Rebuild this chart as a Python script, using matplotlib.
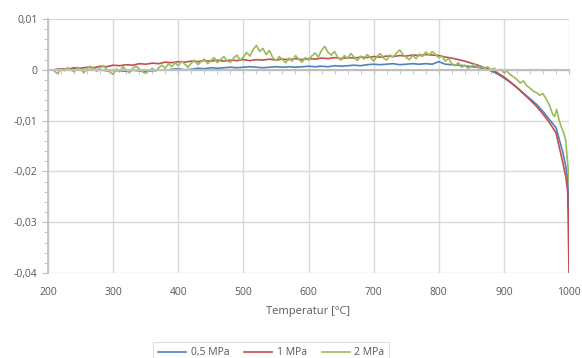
import matplotlib.pyplot as plt
import numpy as np
from matplotlib.ticker import MultipleLocator, FuncFormatter, FixedLocator

plt.rcParams['font.family'] = ['Open Sans', 'DejaVu Sans']

# temperature grid for 0,5 MPa and 1 MPa
t_main = list(range(210, 1000, 10)) + [995, 998, 1000]

blue = [0.0000, 0.0001, 0.0000, 0.0002, 0.0001, -0.0001, 0.0001, 0.0000, -0.0002, -0.0001,
        -0.0002, -0.0003, -0.0001, -0.0002, -0.0003, -0.0002, 0.0000, -0.0001, 0.0001, 0.0002,
        0.0000, 0.0001, 0.0003, 0.0002, 0.0004, 0.0003, 0.0004, 0.0005, 0.0004, 0.0005,
        0.0006, 0.0005, 0.0004, 0.0005, 0.0006, 0.0005, 0.0006, 0.0005, 0.0006, 0.0007,
        0.0006, 0.0007, 0.0006, 0.0008, 0.0007, 0.0008, 0.0009, 0.0008, 0.0010, 0.0011,
        0.0010, 0.0011, 0.0012, 0.0010, 0.0011, 0.0012, 0.0011, 0.0012, 0.0011, 0.0016,
        0.0011, 0.0010, 0.0009, 0.0008, 0.0006, 0.0005, 0.0002, -0.0002, -0.0008, -0.0016,
        -0.0025, -0.0035, -0.0046, -0.0057, -0.0068, -0.0082, -0.0098, -0.0114, -0.0160,
        -0.0190, -0.0215, -0.0300]

red = [0.0000, 0.0002, 0.0001, 0.0004, 0.0003, 0.0005, 0.0004, 0.0007, 0.0006, 0.0009,
       0.0008, 0.0010, 0.0009, 0.0012, 0.0011, 0.0013, 0.0012, 0.0015, 0.0014, 0.0016,
       0.0015, 0.0017, 0.0016, 0.0018, 0.0017, 0.0019, 0.0017, 0.0019, 0.0018, 0.0020,
       0.0018, 0.0020, 0.0019, 0.0021, 0.0019, 0.0021, 0.0020, 0.0022, 0.0020, 0.0022,
       0.0021, 0.0023, 0.0022, 0.0024, 0.0022, 0.0024, 0.0023, 0.0025, 0.0024, 0.0026,
       0.0025, 0.0027, 0.0026, 0.0028, 0.0027, 0.0029, 0.0028, 0.0030, 0.0029, 0.0028,
       0.0025, 0.0023, 0.0020, 0.0017, 0.0013, 0.0009, 0.0004, 0.0000, -0.0006, -0.0014,
       -0.0024, -0.0035, -0.0047, -0.0059, -0.0072, -0.0087, -0.0104, -0.0124, -0.0180,
       -0.0210, -0.0240, -0.0400]

# 2 MPa, finer sampling
t_green = list(range(210, 950, 5)) + [950, 955, 960, 965, 970, 975, 978, 981, 985, 988,
                                     992, 995, 997, 999, 1000]
green = [-0.0003, -0.0008, 0.0002, -0.0002, 0.0004, 0.0000, -0.0004, 0.0005, 0.0001, -0.0006,
         0.0003, 0.0007, 0.0002, -0.0003, 0.0004, 0.0008, 0.0001, -0.0005, -0.0009, 0.0002,
         -0.0004, 0.0006, 0.0000, -0.0006, 0.0003, 0.0007, 0.0002, -0.0004, -0.0007, -0.0002,
         0.0003, -0.0003, 0.0004, 0.0009, 0.0003, 0.0012, 0.0006, 0.0014, 0.0008, 0.0017,
         0.0011, 0.0005, 0.0013, 0.0019, 0.0010, 0.0016, 0.0021, 0.0012, 0.0018, 0.0024,
         0.0014, 0.0020, 0.0026, 0.0017, 0.0015, 0.0023, 0.0029, 0.0019, 0.0025, 0.0034,
         0.0027, 0.0040, 0.0048, 0.0036, 0.0042, 0.0030, 0.0038, 0.0024, 0.0018, 0.0026,
         0.0020, 0.0014, 0.0023, 0.0017, 0.0028, 0.0021, 0.0015, 0.0024, 0.0019, 0.0027,
         0.0033, 0.0025, 0.0038, 0.0046, 0.0034, 0.0029, 0.0036, 0.0024, 0.0019, 0.0028,
         0.0022, 0.0032, 0.0025, 0.0018, 0.0027, 0.0021, 0.0030, 0.0024, 0.0017, 0.0026,
         0.0032, 0.0023, 0.0019, 0.0029, 0.0025, 0.0033, 0.0039, 0.0030, 0.0024, 0.0020,
         0.0028, 0.0022, 0.0031, 0.0026, 0.0035, 0.0029, 0.0036, 0.0030, 0.0024, 0.0027,
         0.0017, 0.0022, 0.0012, 0.0008, 0.0014, 0.0005, 0.0009, 0.0003, 0.0007, 0.0011,
         0.0004, 0.0008, 0.0002, 0.0006, 0.0000, 0.0003, -0.0002, 0.0001, -0.0006, -0.0003,
         -0.0010, -0.0014, -0.0019, -0.0026, -0.0022, -0.0031, -0.0036, -0.0042,
         -0.0045, -0.0050, -0.0047, -0.0058, -0.0070, -0.0088, -0.0092, -0.0078, -0.0100,
         -0.0112, -0.0125, -0.0140, -0.0170, -0.0200, -0.0222]

labels = ['0,5 MPa', '1 MPa', '2 MPa']
colors = ['#4F81BD', '#C0504D', '#9BBB59']
x_ticks = [200, 300, 400, 500, 600, 700, 800, 900, 1000]

fig = plt.figure(figsize=(5.82, 3.58), dpi=100)
ax = fig.add_axes([0.0825, 0.2374, 0.8952, 0.7096])

ax.plot(t_main, blue, color=colors[0], lw=1.2, label=labels[0])
ax.plot(t_main, red, color=colors[1], lw=1.2, label=labels[1])
ax.plot(t_green, green, color=colors[2], lw=1.2, label=labels[2])

ax.set_xlim(200, 1000)
ax.set_ylim(-0.04, 0.01)
ax.xaxis.set_major_locator(FixedLocator(x_ticks))
ax.xaxis.set_minor_locator(MultipleLocator(20))
ax.yaxis.set_major_locator(MultipleLocator(0.01))
ax.yaxis.set_minor_locator(MultipleLocator(0.002))
ax.yaxis.set_major_formatter(FuncFormatter(
    lambda v, p: '0' if abs(v) < 1e-9 else ('%.2f' % v).replace('.', ',')))

ax.grid(True, which='major', color='#d9d9d9', lw=1)
ax.set_axisbelow(True)
for s in ['top', 'right']:
    ax.spines[s].set_visible(False)
ax.spines['left'].set_color('#bfbfbf')
ax.spines['left'].set_linewidth(1.2)

# horizontal axis crosses at zero
ax.spines['bottom'].set_position(('data', 0))
ax.spines['bottom'].set_color('#bfbfbf')
ax.spines['bottom'].set_linewidth(1.5)
ax.tick_params(axis='x', which='both', length=3, color='#bfbfbf', labelbottom=False)

ax.tick_params(axis='y', which='major', length=4, color='#bfbfbf', colors='#595959',
               labelsize=7.5)
ax.tick_params(axis='y', which='minor', length=3, color='#bfbfbf')

# tick labels at the bottom of the plot area
low = ax.secondary_xaxis('bottom')
low.spines['bottom'].set_visible(False)
low.xaxis.set_major_locator(FixedLocator(x_ticks))
low.tick_params(length=0, pad=10, colors='#595959', labelsize=7.5)
low.set_xlabel('Temperatur [°C]', color='#595959', fontsize=8, labelpad=6)

leg = fig.legend(loc='upper center', bbox_to_anchor=(0.466, 0.0587), ncol=3,
                 frameon=True, fontsize=7.5, handlelength=2.7, handletextpad=0.4,
                 columnspacing=1.45, fancybox=False, borderpad=0.5)
leg.get_frame().set_edgecolor('#d9d9d9')
leg.get_frame().set_linewidth(0.8)
for t in leg.get_texts():
    t.set_color('#595959')

fig.savefig('out.png', dpi=100)
